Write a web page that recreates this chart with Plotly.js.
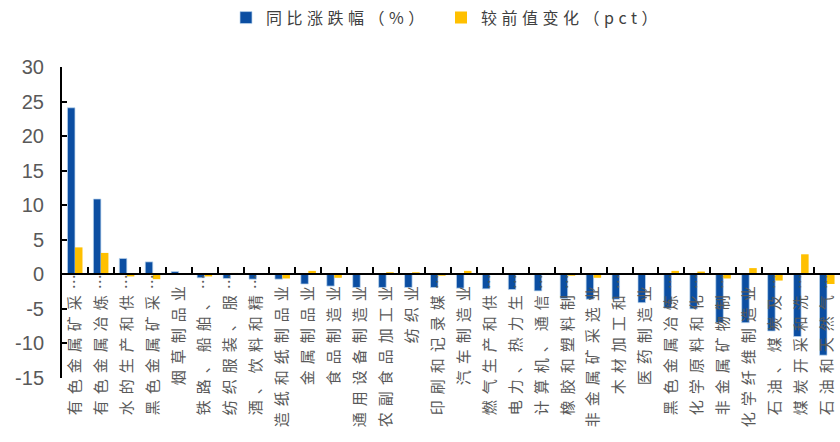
<!DOCTYPE html>
<html>
<head>
<meta charset="utf-8">
<script src="https://cdn.plot.ly/plotly-3.0.1.min.js"></script>
<style>
  html, body { margin: 0; padding: 0; background: #fff; }
  #chart { width: 840px; height: 442px; }
  .xtick text { letter-spacing: 6px; }
  .legendtext { letter-spacing: 4.5px; }
</style>
</head>
<body>
<div id="chart"></div>
<script>
const categories = [
  "有色金属矿采…", "有色金属冶炼…", "水的生产和供…", "黑色金属矿采…", "烟草制品业",
  "铁路、船舶、…", "纺织服装、服…", "酒、饮料和精…", "造纸和纸制品业", "金属制品业",
  "食品制造业", "通用设备制造业", "农副食品加工业", "纺织业", "印刷和记录媒…",
  "汽车制造业", "燃气生产和供…", "电力、热力生…", "计算机、通信…", "橡胶和塑料制…",
  "非金属矿采选业", "木材加工和…", "医药制造业", "黑色金属冶炼…", "化学原料和化…",
  "非金属矿物制…", "化学纤维制造业", "石油、煤炭及…", "煤炭开采和洗…", "石油和天然气…"
];
const yoyChange = [
  24.1, 10.9, 2.3, 1.8, 0.4,
  -0.5, -0.6, -0.7, -0.7, -1.4,
  -1.7, -1.9, -1.9, -1.9, -1.9,
  -2.0, -2.1, -2.2, -2.4, -3.5,
  -3.6, -3.6, -4.1, -4.9, -5.0,
  -7.0, -7.0, -8.2, -9.0, -11.7
];
const pctChange = [
  3.9, 3.1, -0.3, -0.7, 0.0,
  -0.3, 0.2, -0.1, -0.6, 0.5,
  -0.5, 0.1, 0.3, 0.3, -0.2,
  0.5, 0.0, 0.0, 0.2, -0.2,
  -0.5, 0.1, 0.0, 0.5, 0.4,
  -0.6, 0.9, -0.9, 2.9, -1.4
];
const seriesNames = ["同比涨跌幅（%）", "较前值变化（pct）"];
const yTicks = [-15, -10, -5, 0, 5, 10, 15, 20, 25, 30];
const yMin = -15, yMax = 30;

// the truncation ellipsis slightly overflows the label end toward the axis, as in the original
const xTickText = categories.map(c =>
  c.endsWith("…") ? c.slice(0, -1) + '<span style="letter-spacing:-6px">…</span>' : c
);

const traces = [
  {
    type: "bar", name: seriesNames[0], x: categories, y: yoyChange,
    marker: { color: "#0B4EA2", line: { color: "rgba(189,215,238,0.9)", width: 0.8 } }
  },
  {
    type: "bar", name: seriesNames[1], x: categories, y: pctChange,
    marker: { color: "#FFC000" }
  }
];

const layout = {
  width: 840, height: 442,
  margin: { l: 62, r: 0, t: 67, b: 64 },
  paper_bgcolor: "#fff", plot_bgcolor: "#fff",
  barmode: "group", bargap: 0.42, bargroupgap: 0,
  showlegend: true,
  legend: {
    orientation: "h", xref: "container", yref: "container",
    x: 0.525, xanchor: "center", y: 0.96, yanchor: "middle",
    font: { family: "Noto Sans CJK SC, sans-serif", size: 16, color: "#404040" },
    itemwidth: 30, traceorder: "normal", entrywidth: 170
  },
  font: { family: "Liberation Sans, Arial, sans-serif", color: "#595959" },
  xaxis: {
    type: "category", range: [-0.5, 29.5],
    tickmode: "array", tickvals: categories, ticktext: xTickText,
    anchor: "free", position: (0 - yMin) / (yMax - yMin),
    tickangle: -90, tickson: "boundaries",
    ticks: "inside", ticklen: 6, tickwidth: 2, tickcolor: "#000",
    showline: true, linecolor: "#000", linewidth: 2,
    showgrid: false, zeroline: false,
    tickfont: { family: "Noto Sans CJK SC, sans-serif", size: 15, color: "#595959" },
    ticklabelstandoff: -1,
    automargin: false
  },
  yaxis: {
    range: [yMin, yMax], tickvals: yTicks, ticktext: yTicks.map(String),
    ticks: "inside", ticklen: 5, tickwidth: 2, tickcolor: "#000",
    showline: true, linecolor: "#000", linewidth: 2,
    showgrid: false, zeroline: false,
    tickfont: { family: "Liberation Sans, Arial, sans-serif", size: 20, color: "#595959" },
    ticklabelstandoff: 12,
    automargin: false
  }
};

Plotly.newPlot("chart", traces, layout, { displayModeBar: false, staticPlot: true });
</script>
</body>
</html>
